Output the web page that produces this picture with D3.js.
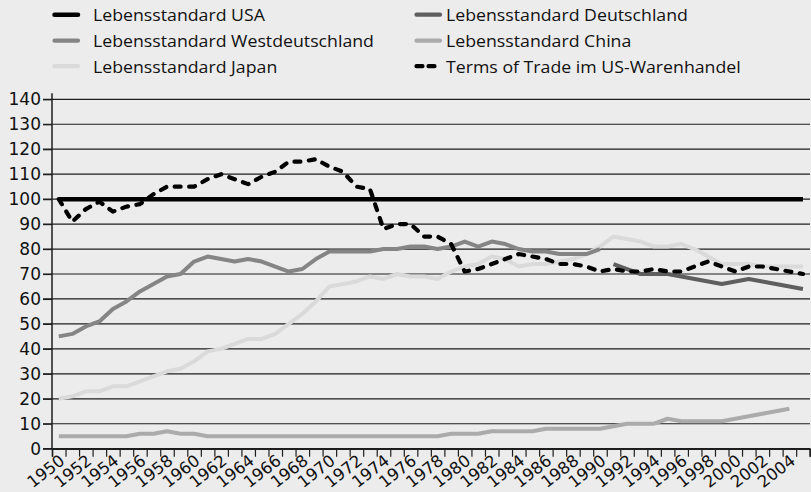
<!DOCTYPE html>
<html>
<head>
<meta charset="utf-8">
<script src="https://cdn.jsdelivr.net/npm/d3@7"></script>
<style>
  html, body { margin: 0; padding: 0; background: #ececec; }
  svg { display: block; }
</style>
</head>
<body>
<svg id="chart" width="811" height="492"></svg>
<script>
// Categories
const firstYear = 1950;
const lastYear = 2005;
const years = d3.range(firstYear, lastYear + 1);
const yTicks = [0, 10, 20, 30, 40, 50, 60, 70, 80, 90, 100, 110, 120, 130, 140];
const xLabels = ['1950','1952','1954','1956','1958','1960','1962','1964','1966','1968','1970','1972','1974','1976','1978','1980','1982','1984','1986','1988','1990','1992','1994','1996','1998','2000','2002','2004'];

// Series values (index 100 = USA)
const usa = [100,100,100,100,100,100,100,100,100,100, 100,100,100,100,100,100,100,100,100,100,
             100,100,100,100,100,100,100,100,100,100, 100,100,100,100,100,100,100,100,100,100,
             100,100,100,100,100,100,100,100,100,100, 100,100,100,100,100,100];
const usaStart = 1950;

const deutschland = [74,72,70,70,70,69,68,67,66,67,68,67,66,65,64];
const deutschlandStart = 1991;

const westdeutschland = [45,46,49,51,56,59,63,66,69,70, 75,77,76,75,76,75,73,71,72,76,
                         79,79,79,79,80,80,81,81,80,81, 83,81,83,82,80,79,79,78,78,78, 80];
const westdeutschlandStart = 1950;

const china = [5,5,5,5,5,5,6,6,7,6, 6,5,5,5,5,5,5,5,5,5, 5,5,5,5,5,5,5,5,5,6,
               6,6,7,7,7,7,8,8,8,8, 8,9,10,10,10,12,11,11,11,11, 12,13,14,15,16];
const chinaStart = 1950;

const japan = [20,21,23,23,25,25,27,29,31,32, 35,39,40,42,44,44,46,50,54,59,
               65,66,67,69,68,70,69,69,68,71, 73,74,77,76,73,74,74,75,76,78,
               81,85,84,83,81,81,82,80,77,74, 74,74,73,73,73,73];
const japanStart = 1950;

const termsOfTrade = [100,91,96,99,95,97,98,102,105,105, 105,108,110,108,106,109,111,115,115,116,
                      113,111,105,104,88,90,90,85,85,82, 71,72,74,76,78,77,76,74,74,73,
                      71,72,71,71,72,71,71,73,75,73, 71,73,73,72,71,70];
const termsOfTradeStart = 1950;

const series = [
  { key: 'japan', label: 'Lebensstandard Japan', start: japanStart, values: japan, color: '#dadada', width: 4 },
  { key: 'china', label: 'Lebensstandard China', start: chinaStart, values: china, color: '#ababab', width: 4 },
  { key: 'west', label: 'Lebensstandard Westdeutschland', start: westdeutschlandStart, values: westdeutschland, color: '#858585', width: 4 },
  { key: 'de', label: 'Lebensstandard Deutschland', start: deutschlandStart, values: deutschland, color: '#5e5e5e', width: 4 },
  { key: 'usa', label: 'Lebensstandard USA', start: usaStart, values: usa, color: '#000000', width: 4.5 },
  { key: 'tot', label: 'Terms of Trade im US-Warenhandel', start: termsOfTradeStart, values: termsOfTrade, color: '#000000', width: 4.2, dash: '6,8.5' }
];

const legendOrder = ['usa', 'de', 'west', 'china', 'japan', 'tot'];

// Layout
const plotLeft = 52, plotRight = 809.7, plotTop = 99.3, plotBottom = 448.7;
const svg = d3.select('#chart');

const x = d3.scaleBand().domain(years).range([plotLeft, plotRight]).paddingInner(0).paddingOuter(0);
const xEdge = d3.scaleLinear().domain([firstYear, lastYear + 1]).range([plotLeft, plotRight]);
const y = d3.scaleLinear().domain([0, 140]).range([plotBottom, plotTop]);

// Gridlines
svg.append('g')
  .selectAll('line')
  .data(yTicks)
  .join('line')
  .attr('x1', plotLeft - 9)
  .attr('x2', 810)
  .attr('y1', d => y(d))
  .attr('y2', d => y(d))
  .attr('stroke', '#1e1e1e')
  .attr('stroke-width', 1.2);

// Y axis
const yAxis = svg.append('g')
  .attr('transform', `translate(${plotLeft},0)`)
  .call(d3.axisLeft(y).tickValues(yTicks).tickSize(9).tickPadding(2));
yAxis.select('.domain').attr('d', `M0,${plotTop - 6}V${plotBottom}`).attr('stroke', '#1e1e1e').attr('stroke-width', 1.5);
yAxis.selectAll('.tick line').attr('stroke', '#1e1e1e').attr('stroke-width', 1.2);
yAxis.selectAll('.tick text')
  .attr('fill', '#111')
  .style('font-family', '"DejaVu Sans", sans-serif')
  .style('font-size', '17px');

// X axis (ticks on year boundaries)
const xAxis = svg.append('g')
  .attr('transform', `translate(0,${plotBottom})`)
  .call(d3.axisBottom(xEdge).tickValues(d3.range(firstYear, lastYear + 2)).tickSize(8).tickFormat(''));
xAxis.select('.domain').attr('stroke', '#1e1e1e').attr('stroke-width', 1.5);
xAxis.selectAll('.tick line').attr('stroke', '#1e1e1e').attr('stroke-width', 1.2);

svg.append('g')
  .selectAll('text')
  .data(xLabels)
  .join('text')
  .attr('transform', d => `translate(${x(+d) + x.bandwidth() / 2 + 7},${plotBottom + 14}) rotate(-38)`)
  .attr('text-anchor', 'end')
  .attr('fill', '#111')
  .style('font-family', '"DejaVu Sans", sans-serif')
  .style('font-size', '16.5px')
  .text(d => d);

// Lines
const line = d3.line()
  .defined(d => d.v != null)
  .x(d => x(d.year) + x.bandwidth() / 2)
  .y(d => y(d.v));

svg.append('g')
  .selectAll('path')
  .data(series)
  .join('path')
  .attr('d', s => line(s.values.map((v, i) => ({ year: s.start + i, v }))))
  .attr('fill', 'none')
  .attr('stroke', s => s.color)
  .attr('stroke-width', s => s.width)
  .attr('stroke-linejoin', 'round')
  .attr('stroke-linecap', s => s.dash ? 'round' : 'butt')
  .attr('stroke-dasharray', s => s.dash || null);

// Legend
const legendCols = [{ sx: 52, tx: 93 }, { sx: 414, tx: 446 }];
const legendRows = [21, 47, 72.5];
const byKey = new Map(series.map(s => [s.key, s]));

const legend = svg.append('g');
const items = legend.selectAll('g')
  .data(legendOrder.map((k, i) => ({ s: byKey.get(k), col: legendCols[i % 2], row: legendRows[Math.floor(i / 2)] })))
  .join('g');

items.append('line')
  .attr('x1', d => d.col.sx + 2.5)
  .attr('x2', d => d.col.sx + 26)
  .attr('y1', d => d.row - 6.3)
  .attr('y2', d => d.row - 6.3)
  .attr('stroke', d => d.s.color)
  .attr('stroke-width', d => d.s.key === 'usa' ? 4.5 : 4.2)
  .attr('stroke-linecap', 'round')
  .attr('stroke-dasharray', d => d.s.dash ? '6,6' : null);

const legendText = items.append('text')
  .attr('x', 0)
  .attr('y', 0)
  .attr('fill', '#111')
  .style('font-family', '"Open Sans", "Liberation Sans", sans-serif')
  .style('font-size', '17px')
  .text(d => d.s.label);

// match the width of the reference face
const refWidth = 172;
const natural = legendText.filter(d => d.s.key === 'usa').node().getComputedTextLength();
const k = refWidth / natural;
legendText.attr('transform', d => `translate(${d.col.tx},${d.row}) scale(${k},1)`);
</script>
</body>
</html>
